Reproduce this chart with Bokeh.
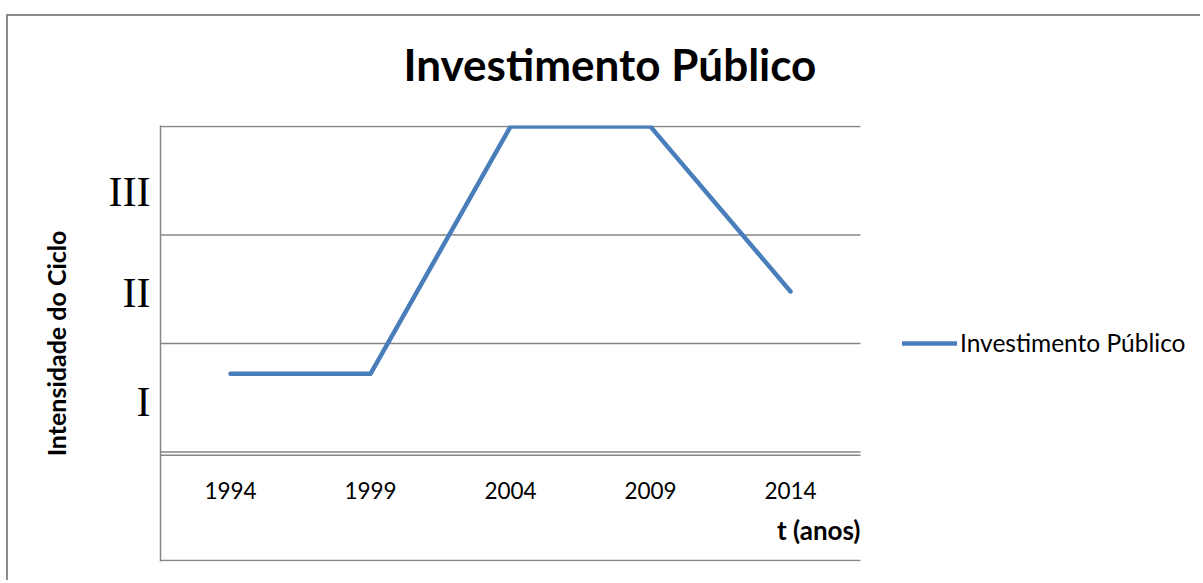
from bokeh.plotting import figure
from bokeh.models import (Range1d, FixedTicker, Legend, LegendItem,
                          ColumnDataSource, Title)
from bokeh.core.properties import value
from bokeh.embed import file_html
from bokeh.resources import INLINE

# ---- data ----
years = [1994, 1999, 2004, 2009, 2014]
year_labels = ["1994", "1999", "2004", "2009", "2014"]
intensity = [0.72, 0.72, 3.0, 3.0, 1.48]
series_name = "Investimento Público"
roman_labels = ["I", "II", "III"]
roman_pos = [0.465, 1.468, 2.397]
band_edges = [-1, 0, 1, 2, 3]
x_axis_line = -0.03

GRID = "#868686"
BLUE = "#4A7EBB"
FONT = "Lato"

# geometry
W, H = 1194, 566
LEFT, TOP, BOTTOM = 152, 109, 21
PLOT_W = 700                      # width of the category area
x0, x1 = years[0] - 2.5, years[-1] + 2.5
px_per_year = PLOT_W / (x1 - x0)
x_end = x0 + (W - LEFT) / px_per_year   # frame continues under the legend

p = figure(width=W, height=H, output_backend="svg", toolbar_location=None,
           x_range=Range1d(x0, x_end), y_range=Range1d(-1.01, 3.01),
           x_axis_location=None, min_border_left=LEFT, min_border_right=0,
           min_border_top=TOP, min_border_bottom=BOTTOM)
p.styles = {"margin-left": "8px", "margin-top": "16px",
            "box-shadow": "-2px -2px 0 0 #8c8c8c"}
p.outline_line_color = None
p.background_fill_color = "white"
p.border_fill_color = "white"

# empty spacer between the title and the plot area
p.add_layout(Title(text=" ", text_font_size="10px", standoff=21), "above")

# title
p.title.text = series_name
p.title.text_font = FONT
p.title.text_font_style = "bold"
p.title.text_font_size = "44px"
p.title.text_color = "black"
p.title.align = "left"
p.title.vertical_align = "top"
p.title.offset = 243
p.title.standoff = 0

# horizontal rules over the category area only
p.xgrid.visible = False
p.ygrid.visible = False
rules = band_edges + [x_axis_line]
p.segment(x0=[x0] * len(rules), x1=[x1] * len(rules), y0=rules, y1=rules,
          line_color=GRID, line_width=1.5)

# y axis
yax = p.yaxis[0]
yax.ticker = FixedTicker(ticks=roman_pos)
yax.major_label_overrides = {v: t for v, t in zip(roman_pos, roman_labels)}
yax.major_label_text_font = "Liberation Serif"
yax.major_label_text_font_size = "42px"
yax.major_label_text_color = "black"
yax.major_label_standoff = 4
yax.major_tick_line_color = None
yax.minor_tick_line_color = None
yax.axis_line_color = GRID
yax.axis_line_width = 1.5
yax.axis_label = "Intensidade do Ciclo"
yax.axis_label_text_font = FONT
yax.axis_label_text_font_style = "bold"
yax.axis_label_text_font_size = "25px"
yax.axis_label_text_color = "black"
yax.axis_label_standoff = 35

# series
src = ColumnDataSource(dict(x=years, y=intensity))
r = p.line("x", "y", source=src, line_color=BLUE, line_width=4.5,
           line_cap="round", line_join="round")

# category labels and x-axis title
lab = ColumnDataSource(dict(x=years, y=[-0.355] * len(years), t=year_labels))
p.text("x", "y", text="t", source=lab, text_font=value(FONT),
       text_font_size="22.5px", text_align="center", text_baseline="middle",
       text_color="black")
p.text(x=[x1], y=[-0.72], text=["t (anos)"], text_font=value(FONT),
       text_font_style="bold", text_font_size="26px", text_align="right",
       text_baseline="middle", text_color="black")

# legend
leg = Legend(items=[LegendItem(label=series_name, renderers=[r])],
             location=(742, 204), margin=0, padding=0, spacing=0,
             glyph_width=55, glyph_height=28, label_height=28,
             label_standoff=3, border_line_color=None,
             background_fill_alpha=0, label_text_font=FONT,
             label_text_font_size="24.5px", label_text_color="black")
p.add_layout(leg)

open("out.html", "w").write(file_html(p, INLINE))
